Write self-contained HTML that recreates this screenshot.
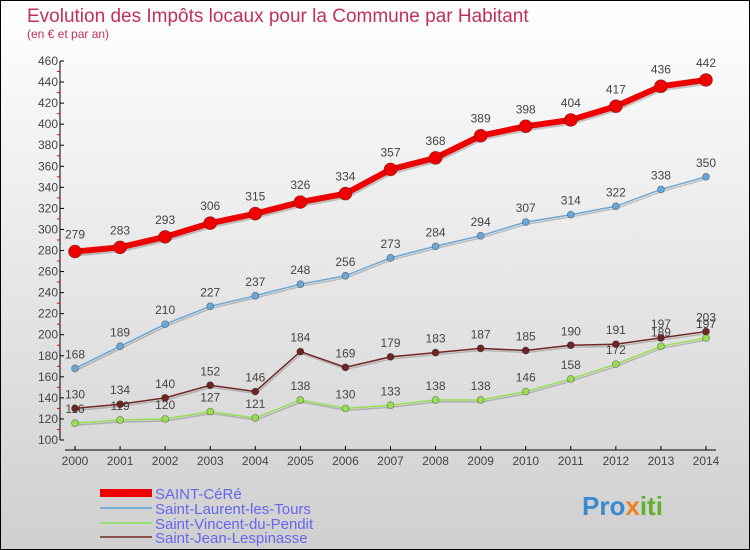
<!DOCTYPE html>
<html><head><meta charset="utf-8"><style>
body{margin:0}
#c{width:750px;height:550px;position:relative;overflow:hidden;font-family:"Liberation Sans",sans-serif}
</style></head><body>
<div id="c">
<svg id="s" width="750" height="550" xmlns="http://www.w3.org/2000/svg">
<defs><linearGradient id="bg" x1="0" y1="0" x2="0" y2="1"><stop offset="0" stop-color="#ffffff"/><stop offset="1" stop-color="#cfcfcf"/></linearGradient></defs>
<rect x="0.5" y="0.5" width="749" height="549" fill="url(#bg)" stroke="#000"/>
<text x="27" y="22" font-size="19" fill="#c0305a">Evolution des Impôts locaux pour la Commune par Habitant</text>
<text x="27" y="38" font-size="12" fill="#c0305a">(en € et par an)</text>
<g id="axes"></g><g id="series"></g>
<g>
<rect x="100" y="489" width="52" height="8" fill="#e00"/>
<text x="155" y="499" font-size="15" fill="#6666ee">SAINT-CéRé</text>
<rect x="100" y="507" width="52" height="2" fill="#7ab0d8"/>
<text x="155" y="514" font-size="15" fill="#6666ee">Saint-Laurent-les-Tours</text>
<rect x="100" y="522" width="52" height="2" fill="#99dd77"/>
<text x="155" y="529" font-size="15" fill="#6666ee">Saint-Vincent-du-Pendit</text>
<rect x="100" y="536" width="52" height="2" fill="#8b5050"/>
<text x="155" y="543" font-size="15" fill="#6666ee">Saint-Jean-Lespinasse</text>
</g>
<text x="582" y="515" font-size="26" font-weight="bold" fill="#3a8ad0">Pro<tspan fill="#f08020">x</tspan><tspan fill="#60b030">iti</tspan></text>
</svg></div>
<script>
const years=[2000,2001,2002,2003,2004,2005,2006,2007,2008,2009,2010,2011,2012,2013,2014];
const yTicks=[100,120,140,160,180,200,220,240,260,280,300,320,340,360,380,400,420,440,460];
const cere=[279,283,293,306,315,326,334,357,368,389,398,404,417,436,442];
const laurent=[168,189,210,227,237,248,256,273,284,294,307,314,322,338,350];
const vincent=[116,119,120,127,121,138,130,133,138,138,146,158,172,189,197];
const jean=[130,134,140,152,146,184,169,179,183,187,185,190,191,197,203];
const NS="http://www.w3.org/2000/svg";
function X(i){return 75+i*(706-75)/(years.length-1);}
function Y(v){return 440-(v-100)*(440-61)/360;}
function mk(t,a,p){const e=document.createElementNS(NS,t);for(const k in a)e.setAttribute(k,a[k]);p.appendChild(e);return e;}
const ax=document.getElementById('axes');
let l=mk('line',{x1:60,y1:61,x2:60,y2:440,stroke:'#000'},ax);


l=mk('line',{x1:65,y1:450,x2:716,y2:450,stroke:'#000'},ax);


yTicks.forEach((v,k)=>{mk('line',{x1:60,y1:Y(v),x2:64,y2:Y(v),stroke:'#000'},ax);
 if(k<yTicks.length-1)mk('line',{x1:57,y1:Y(v+10),x2:60,y2:Y(v+10),stroke:'#e00'},ax);
 const t=mk('text',{x:58,y:Y(v)+4,'font-size':12,fill:'#444','text-anchor':'end'},ax);t.textContent=v;
 
 });
years.forEach((y,i)=>{mk('line',{x1:X(i),y1:446,x2:X(i),y2:450,stroke:'#000'},ax);
 const t=mk('text',{x:X(i),y:465,'font-size':12,fill:'#444','text-anchor':'middle'},ax);t.textContent=y;
 
 });
const sg=document.getElementById('series');
function draw(vals,col,w,r,name,lblDy){
 const g=mk('g',{},sg);
 
 
 const pts=vals.map((v,i)=>X(i)+','+Y(v)).join(' ');
 mk('polyline',{points:pts,fill:'none',stroke:'rgba(0,0,0,0.2)','stroke-width':w,transform:'translate(1,2)'},g);
 const pl=mk('polyline',{points:pts,fill:'none',stroke:col,'stroke-width':w},g);
 
 
 vals.forEach((v,i)=>{const c=mk('circle',{cx:X(i),cy:Y(v),r:r,fill:col,stroke:'rgba(0,0,0,0.4)','stroke-width':0.7},g);
  
  
  const t=mk('text',{x:X(i),y:Y(v)+lblDy,'font-size':12,fill:'#444','text-anchor':'middle'},g);t.textContent=v;
  
  });
}
draw(vincent,'#99dd55',1.5,3.5,'saint-vincent',-10);
draw(jean,'#702525',1.5,3.5,'saint-jean',-10);
draw(laurent,'#6aa6d6',1.5,3.5,'saint-laurent',-10);
draw(cere,'#ee0000',6,6.5,'saint-cere',-13);
</script>
</body></html>
